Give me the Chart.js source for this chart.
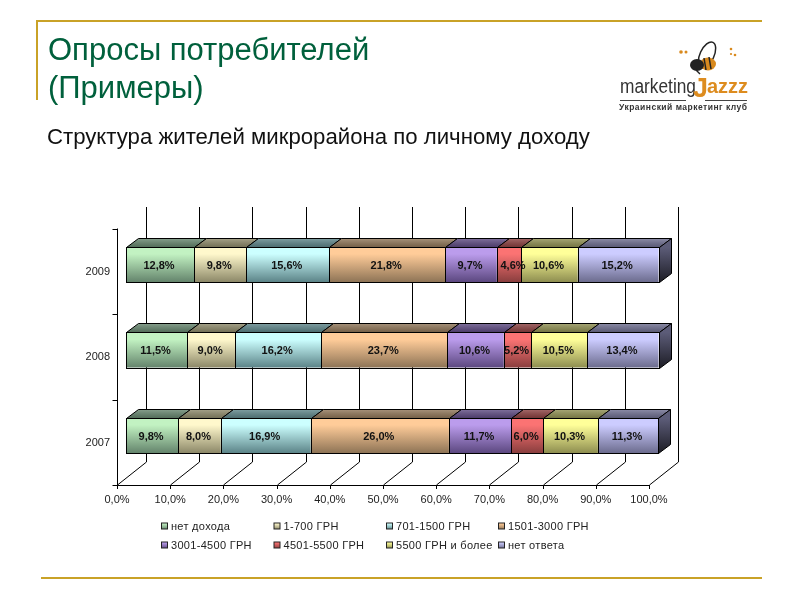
<!DOCTYPE html>
<html lang="ru">
<head>
<meta charset="utf-8">
<title>Опросы потребителей</title>
<script src="https://cdn.jsdelivr.net/npm/chart.js@4"></script>
<style>
    html, body { margin: 0; padding: 0; background: #fff; }
    #slide { position: relative; width: 800px; height: 600px; overflow: hidden; font-family: "Liberation Sans", Arial, sans-serif; }
    #slide canvas { position: absolute; left: 0; top: 0; }
    .rule { position: absolute; background: #c9a227; }
    .heading { position: absolute; left: 48px; color: #00603c; font-size: 31px; line-height: 37px; white-space: nowrap; }
    .subheading { position: absolute; left: 47px; top: 124px; color: #111; font-size: 22.2px; line-height: 26px; white-space: nowrap; }
    #logo { position: absolute; left: 600px; top: 30px; }
</style>
</head>
<body>
<div id="slide">
    <canvas id="incomeChart" width="800" height="600"></canvas>
    <div class="rule" style="left:36px; top:20px; width:726px; height:2px;"></div>
    <div class="rule" style="left:36px; top:20px; width:2px; height:80px;"></div>
    <div class="rule" style="left:41px; top:577px; width:721px; height:2px;"></div>
    <div class="heading" style="top:31px;">Опросы потребителей</div>
    <div class="heading" style="top:69px;">(Примеры)</div>
    <div class="subheading">Структура жителей микрорайона по личному доходу</div>
    <svg id="logo" width="170" height="90" viewBox="600 30 170 90">
        <ellipse cx="707" cy="55" rx="7" ry="14" transform="rotate(25 707 55)" fill="none" stroke="#222" stroke-width="1.5"/>
        <ellipse cx="708" cy="64" rx="8" ry="6.5" fill="#d98a1e"/>
        <ellipse cx="697" cy="65" rx="7" ry="6" fill="#222"/>
        <path d="M704 58 L706 70 M709 57 L711 69" stroke="#222" stroke-width="1.5"/>
        <path d="M696 70 L700 74" stroke="#222" stroke-width="1.5"/>
        <circle cx="681" cy="52" r="1.8" fill="#d98a1e"/>
        <circle cx="686" cy="52" r="1.5" fill="#d98a1e"/>
        <circle cx="731" cy="49" r="1.3" fill="#d98a1e"/>
        <circle cx="735" cy="55" r="1.3" fill="#d98a1e"/>
        <circle cx="731" cy="54" r="1.1" fill="#d98a1e"/>
        <text x="620" y="93" font-family="Liberation Sans" font-size="20" fill="#333" textLength="76" lengthAdjust="spacingAndGlyphs">marketing</text>
        <text x="693" y="97" font-family="Liberation Sans" font-size="27" font-weight="bold" fill="#dd8c1f">J</text>
        <text x="707" y="93" font-family="Liberation Sans" font-size="20" font-weight="bold" fill="#dd8c1f" textLength="41" lengthAdjust="spacingAndGlyphs">azzz</text>
        <rect x="620" y="100" width="66" height="1" fill="#444"/>
        <rect x="705" y="100" width="42" height="1" fill="#444"/>
        <text x="619" y="110" font-family="Liberation Sans" font-size="8.5" font-weight="bold" fill="#333" textLength="128">Украинский маркетинг клуб</text>
    </svg>
</div>

<script>
// Income structure survey data
const years = ['2009', '2008', '2007'];
const incomeGroups = ['нет дохода', '1-700 ГРН', '701-1500 ГРН', '1501-3000 ГРН', '3001-4500 ГРН', '4501-5500 ГРН', '5500 ГРН и более', 'нет ответа'];
const noIncome = [12.8, 11.5, 9.8];
const upTo700 = [9.8, 9.0, 8.0];
const upTo1500 = [15.6, 16.2, 16.9];
const upTo3000 = [21.8, 23.7, 26.0];
const upTo4500 = [9.7, 10.6, 11.7];
const upTo5500 = [4.6, 5.2, 6.0];
const over5500 = [10.6, 10.5, 10.3];
const noAnswer = [15.2, 13.4, 11.3];
const seriesValues = [noIncome, upTo700, upTo1500, upTo3000, upTo4500, upTo5500, over5500, noAnswer];

// light and dark end of each bar colour
const lightColors = ['#c2f2c2', '#fff8cc', '#ccffff', '#ffcc99', '#bb9cec', '#fb7373', '#ffff99', '#ccccff'];
const darkColors = ['#64846c', '#8c8868', '#5c8488', '#8e7456', '#5c4880', '#8a3e3e', '#8e8e50', '#6c6c8e'];

// 3D look: offsets relative to the bar plane
const barDepth = { x: 12, y: -9 };
const backWall = { x: 20, top: 207, bottom: 462 };
const frontAxis = { x: -9, y: 485 };
const legendColumns = [161.5, 274, 386.5, 498.5];
const legendRows = [526.5, 545.5];
const tickFont = '11px "Liberation Sans", Arial, sans-serif';

function formatPercent(value) {
    return value.toFixed(1).replace('.', ',') + '%';
}

function barGradient(context) {
    const chart = context.chart;
    const index = context.datasetIndex;
    if (!chart.chartArea) {
        return lightColors[index];
    }
    const center = chart.scales.y.getPixelForValue(context.dataIndex);
    const band = chart.scales.y.getPixelForValue(1) - chart.scales.y.getPixelForValue(0);
    const thickness = band * 0.41;
    const gradient = chart.ctx.createLinearGradient(0, center - thickness / 2, 0, center + thickness / 2);
    gradient.addColorStop(0, lightColors[index]);
    gradient.addColorStop(0.2, lightColors[index]);
    gradient.addColorStop(1, darkColors[index]);
    return gradient;
}

const axesPlugin = {
    id: 'axes3d',
    beforeDatasetsDraw(chart) {
        const ctx = chart.ctx;
        const x = chart.scales.x;
        const y = chart.scales.y;
        ctx.save();
        ctx.strokeStyle = '#000';
        ctx.lineWidth = 1;

        // back wall grid lines running down to the front axis
        x.ticks.forEach(tick => {
            const px = Math.round(x.getPixelForValue(tick.value)) + 0.5;
            ctx.beginPath();
            ctx.moveTo(px + backWall.x, backWall.top);
            ctx.lineTo(px + backWall.x, backWall.bottom);
            ctx.lineTo(px + frontAxis.x, frontAxis.y);
            ctx.lineTo(px + frontAxis.x, frontAxis.y + 4);
            ctx.stroke();
        });

        // front axis lines
        const left = Math.round(x.left + frontAxis.x) + 0.5;
        const top = frontAxis.y - (y.bottom - y.top);
        ctx.beginPath();
        ctx.moveTo(left, top);
        ctx.lineTo(left, frontAxis.y + 0.5);
        ctx.lineTo(Math.round(x.right + frontAxis.x) + 0.5, frontAxis.y + 0.5);
        ctx.stroke();
        for (let i = 0; i <= years.length; i++) {
            const py = Math.round(top + i * (y.bottom - y.top) / years.length) + 0.5;
            ctx.beginPath();
            ctx.moveTo(left - 5, py);
            ctx.lineTo(left, py);
            ctx.stroke();
        }

        // top faces of every segment and the right side of the last one
        chart.data.datasets.forEach((dataset, d) => {
            chart.getDatasetMeta(d).data.forEach(bar => {
                const x0 = Math.round(bar.base) + 0.5;
                const x1 = Math.round(bar.x) + 0.5;
                const y0 = Math.round(bar.y - bar.height / 2) + 0.5;
                const y1 = Math.round(bar.y + bar.height / 2) + 0.5;

                ctx.beginPath();
                ctx.moveTo(x0, y0);
                ctx.lineTo(x0 + barDepth.x, y0 + barDepth.y);
                ctx.lineTo(x1 + barDepth.x, y0 + barDepth.y);
                ctx.lineTo(x1, y0);
                ctx.closePath();
                ctx.fillStyle = darkColors[d];
                ctx.fill();
                const shade = ctx.createLinearGradient(0, y0 + barDepth.y, 0, y0);
                shade.addColorStop(0, 'rgba(255,255,255,0.22)');
                shade.addColorStop(1, 'rgba(0,0,0,0.18)');
                ctx.fillStyle = shade;
                ctx.fill();
                ctx.stroke();

                if (d === chart.data.datasets.length - 1) {
                    const side = ctx.createLinearGradient(0, y0, 0, y1);
                    side.addColorStop(0, '#5c5c78');
                    side.addColorStop(1, '#1c1c24');
                    ctx.fillStyle = side;
                    ctx.beginPath();
                    ctx.moveTo(x1, y0);
                    ctx.lineTo(x1 + barDepth.x, y0 + barDepth.y);
                    ctx.lineTo(x1 + barDepth.x, y1 + barDepth.y);
                    ctx.lineTo(x1, y1);
                    ctx.closePath();
                    ctx.fill();
                    ctx.stroke();
                }
            });
        });
        ctx.restore();
    },
    afterDatasetsDraw(chart) {
        const ctx = chart.ctx;
        ctx.save();

        // crisp black outline over the bar fronts
        ctx.strokeStyle = '#000';
        ctx.lineWidth = 1;
        chart.data.datasets.forEach((dataset, d) => {
            chart.getDatasetMeta(d).data.forEach(bar => {
                const x0 = Math.round(bar.base) + 0.5;
                const x1 = Math.round(bar.x) + 0.5;
                const y0 = Math.round(bar.y - bar.height / 2) + 0.5;
                const y1 = Math.round(bar.y + bar.height / 2) + 0.5;
                ctx.strokeRect(x0, y0, x1 - x0, y1 - y0);
            });
        });

        // value labels
        ctx.font = 'bold 11px "Liberation Sans", Arial, sans-serif';
        ctx.fillStyle = '#111';
        ctx.textAlign = 'center';
        ctx.textBaseline = 'middle';
        chart.data.datasets.forEach((dataset, d) => {
            chart.getDatasetMeta(d).data.forEach((bar, i) => {
                // the narrowest label sits off centre in the original
                const nudge = dataset.data[i] < 5 ? 5 : 0;
                ctx.fillText(formatPercent(dataset.data[i]), (bar.base + bar.x) / 2 + nudge - 1, bar.y + 1);
            });
        });

        // legend, two rows of four
        ctx.font = tickFont;
        ctx.letterSpacing = '0.3px';
        ctx.textAlign = 'left';
        chart.data.datasets.forEach((dataset, d) => {
            const lx = legendColumns[d % 4];
            const ly = legendRows[Math.floor(d / 4)];
            const swatch = ctx.createLinearGradient(0, ly - 3, 0, ly + 3);
            swatch.addColorStop(0, lightColors[d]);
            swatch.addColorStop(1, darkColors[d]);
            ctx.fillStyle = swatch;
            ctx.strokeStyle = '#222';
            ctx.fillRect(lx, ly - 3.5, 6, 6);
            ctx.strokeRect(lx, ly - 3.5, 6, 6);
            ctx.fillStyle = '#222';
            ctx.fillText(dataset.label, lx + 9.5, ly);
        });
        ctx.restore();
    }
};

document.addEventListener('DOMContentLoaded', function () {
    const ctx = document.getElementById('incomeChart').getContext('2d');
    new Chart(ctx, {
        type: 'bar',
        data: {
            labels: years,
            datasets: incomeGroups.map((label, i) => ({
                label: label,
                data: seriesValues[i],
                backgroundColor: barGradient,
                borderWidth: 0,
                barPercentage: 0.41,
                categoryPercentage: 1,
                clip: false
            }))
        },
        options: {
            indexAxis: 'y',
            responsive: false,
            animation: false,
            layout: { padding: { top: 221.75, right: 142 } },
            plugins: { legend: { display: false }, title: { display: false }, tooltip: { enabled: false } },
            scales: {
                x: {
                    stacked: true,
                    min: 0,
                    max: 100,
                    grid: { display: false },
                    border: { display: false },
                    afterFit: scale => { scale.height = 121.75; },
                    ticks: {
                        stepSize: 10,
                        autoSkip: false,
                        maxRotation: 0,
                        padding: 7,
                        labelOffset: -9,
                        color: '#222',
                        font: { family: '"Liberation Sans", Arial, sans-serif', size: 11 },
                        callback: value => formatPercent(value)
                    }
                },
                y: {
                    stacked: true,
                    grid: { display: false },
                    border: { display: false },
                    afterFit: scale => { scale.width = 126; },
                    ticks: {
                        padding: 8,
                        labelOffset: 7,
                        color: '#222',
                        font: { family: '"Liberation Sans", Arial, sans-serif', size: 11 }
                    }
                }
            }
        },
        plugins: [axesPlugin]
    });
});
</script>
</body>
</html>
